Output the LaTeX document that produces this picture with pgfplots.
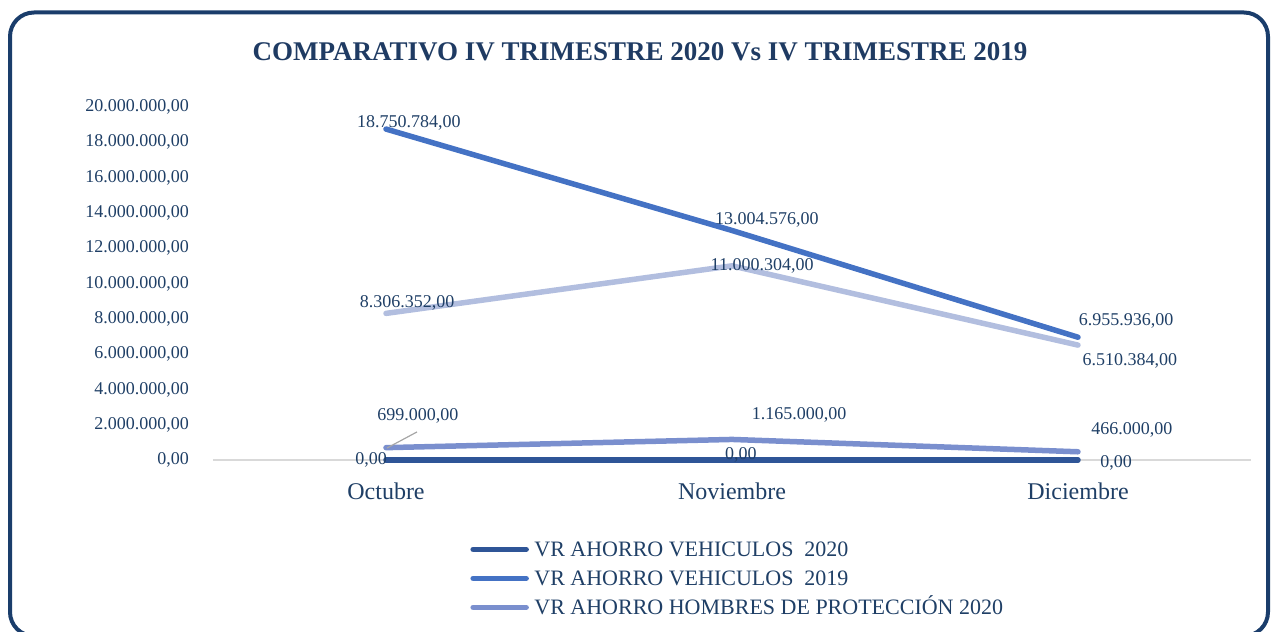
\documentclass[border=0pt]{standalone}
\usepackage{pgfplots}
\pgfplotsset{compat=1.18}
\usepackage{fontspec}
\setmainfont{Liberation Serif}

\definecolor{cveh20}{HTML}{2F5597}
\definecolor{cveh19}{HTML}{4472C4}
\definecolor{chom20}{HTML}{7A8FCE}
\definecolor{chom19}{HTML}{B2BEDF}
\definecolor{txt}{HTML}{1F3F66}
\definecolor{ttl}{HTML}{1F3B63}
\definecolor{frame}{HTML}{1A3D6B}
\definecolor{base}{HTML}{D9D9D9}

\tikzset{dl/.style={font=\fontsize{9}{11}\selectfont, text=txt}}

\begin{document}
\begin{tikzpicture}
\useasboundingbox (0,0) rectangle (635.5pt,316pt);
\begin{axis}[
    at={(106.5pt,86pt)}, anchor=south west,
    scale only axis,
    width=519pt, height=176.5pt,
    xmin=-0.5, xmax=2.5,
    ymin=0, ymax=20000000,
    clip=false,
    axis x line=bottom, axis y line=left,
    x axis line style={draw=base, line width=1pt, -},
    y axis line style={draw=none},
    major tick length=0pt,
    xtick={0,1,2},
    xticklabels={Octubre,Noviembre,Diciembre},
    ytick={0,2000000,4000000,6000000,8000000,10000000,12000000,14000000,16000000,18000000,20000000},
    scaled y ticks=false,
    yticklabel style={font=\fontsize{9}{11}\selectfont, text=txt, xshift=-8.5pt,
        /pgf/number format/.cd, fixed, fixed zerofill, precision=2,
        1000 sep={.}, use comma, assume math mode=true},
    xticklabel style={font=\fontsize{12}{14}\selectfont, text=txt, yshift=-8pt},
    every axis plot/.append style={line width=2.75pt, line cap=round, line join=round},
    legend style={at={(rel axis cs:0.2476,-0.211)}, anchor=north west,
        draw=none, fill=none, inner sep=0pt, row sep=0pt,
        font=\fontsize{11}{13}\selectfont, text=txt,
        nodes={text height=8pt, text depth=1pt, inner sep=2.75pt}},
    legend cell align=left,
    legend image code/.code={\draw[#1, line width=2.75pt, line cap=round] (0pt,0pt) -- (26.5pt,0pt);},
]

% VR AHORRO VEHICULOS 2020
\addplot[cveh20] coordinates {(0,0) (1,0) (2,0)};
% VR AHORRO VEHICULOS 2019
\addplot[cveh19] coordinates {(0,18750784) (1,13004576) (2,6955936)};
% VR AHORRO HOMBRES DE PROTECCION 2020
\addplot[chom20] coordinates {(0,699000) (1,1165000) (2,466000)};
% fourth series (not in legend)
\addplot[chom19, forget plot] coordinates {(0,8306352) (1,11000304) (2,6510384)};

\legend{VR AHORRO VEHICULOS\ \ 2020, VR AHORRO VEHICULOS\ \ 2019, VR AHORRO HOMBRES DE PROTECCIÓN 2020}

% data labels
\node[dl] at (axis cs:0.066,19090000) {18.750.784,00};
\node[dl] at (axis cs:1.101,13600000) {13.004.576,00};
\node[dl] at (axis cs:2.139,7880000) {6.955.936,00};
\node[dl] at (axis cs:0.061,8900000) {8.306.352,00};
\node[dl] at (axis cs:1.087,10990000) {11.000.304,00};
\node[dl] at (axis cs:2.150,5610000) {6.510.384,00};
\node[dl] at (axis cs:0.092,2490000) {699.000,00};
\node[dl] at (axis cs:1.194,2550000) {1.165.000,00};
\node[dl] at (axis cs:2.156,1700000) {466.000,00};
\node[dl] at (axis cs:-0.043,0) {0,00};
\node[dl] at (axis cs:1.026,280000) {0,00};
\node[dl] at (axis cs:2.110,-170000) {0,00};
\draw[gray!70, line width=0.6pt] (axis cs:0.003,680000) -- (axis cs:0.0896,1590000);
\end{axis}

\node[font=\bfseries\fontsize{13.5}{16}\selectfont, text=ttl] at (320pt,290pt)
    {COMPARATIVO IV TRIMESTRE 2020 Vs IV TRIMESTRE 2019};
\draw[frame, line width=2pt, rounded corners=12pt] (5pt,-2pt) rectangle (634pt,309.75pt);
\end{tikzpicture}
\end{document}
